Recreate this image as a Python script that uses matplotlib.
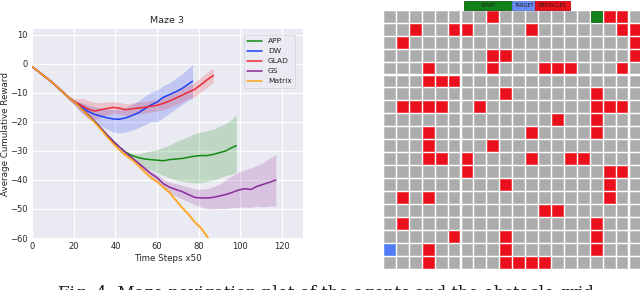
import matplotlib
matplotlib.use("Agg")
import matplotlib.pyplot as plt
from matplotlib.patches import Rectangle
import seaborn as sns

# ---------------- data: learning curves ----------------
dw_x = [0, 3, 6, 9, 12, 15, 18, 21, 24, 27, 30, 33, 36, 39, 42, 45, 48, 51, 54, 57, 60, 63, 66, 69, 72, 75, 77]
dw_y = [-1, -2.6, -4.3, -6, -7.9, -9.9, -11.9, -13.6, -15, -16.4, -17.4, -18, -18.6, -19, -19.1, -18.6, -17.8, -16.9, -15.5, -14.2, -13.2, -11.5, -10.6, -9.6, -8.5, -7, -6]
dw_lo = [-1, -2.7, -4.4, -6.2, -8.1, -10.2, -12.4, -14.8, -17, -18.8, -20.2, -21.4, -22.5, -23.5, -23.8, -23.5, -22.8, -22, -21, -20, -20, -18.5, -17, -15.5, -14, -12.5, -12]
dw_hi = [-1, -2.5, -4.2, -5.8, -7.7, -9.6, -11.4, -12.6, -13.4, -14.2, -14.8, -15.2, -15.6, -15.8, -15.6, -15, -14, -12.8, -11.2, -9.8, -9, -7.5, -6.5, -5, -3.5, -1.5, -0.3]

glad_x = [0, 3, 6, 9, 12, 15, 18, 21, 24, 27, 30, 33, 36, 39, 42, 45, 48, 51, 54, 57, 60, 63, 66, 69, 72, 75, 78, 81, 84, 87]
glad_y = [-1, -2.6, -4.3, -6, -7.9, -9.9, -11.9, -13.3, -14.4, -15.6, -16.3, -15.8, -15.4, -15, -15.3, -15.8, -15.5, -15.2, -15, -14.6, -14.3, -13.6, -12.8, -11.8, -10.8, -9.8, -8.8, -7.2, -5.5, -4]
glad_lo = [-1, -2.8, -4.6, -6.4, -8.4, -10.5, -12.7, -14.5, -16.9, -18.6, -19.3, -18.3, -17.6, -17, -17.3, -17.8, -17.5, -17.2, -17, -16.6, -16.3, -15.8, -15, -14.1, -13.1, -12.1, -11.3, -9.7, -8, -6.5]
glad_hi = [-1, -2.4, -4.0, -5.6, -7.4, -9.3, -11.1, -12.1, -11.9, -12.6, -13.3, -13.3, -13.2, -13, -13.3, -13.8, -13.5, -13.2, -13, -12.6, -12.3, -11.4, -10.6, -9.5, -8.5, -7.5, -6.3, -4.7, -3, -1.5]

app_x = [0, 3, 6, 9, 12, 15, 18, 21, 24, 27, 30, 33, 36, 39, 42, 45, 48, 51, 54, 57, 60, 63, 66, 69, 72, 75, 78, 81, 84, 87, 90, 93, 96, 98]
app_y = [-1, -2.6, -4.3, -6, -7.9, -9.9, -11.9, -13.5, -15.5, -17.6, -19.8, -22.1, -24.5, -26.7, -28.7, -30.5, -31.6, -32.3, -32.8, -33, -33.2, -33.4, -33, -32.8, -32.6, -32.2, -31.8, -31.6, -31.6, -31.2, -30.6, -30, -28.8, -28.2]
app_lo = [-1, -2.7, -4.4, -6.2, -8.1, -10.1, -12.1, -13.8, -15.8, -17.9, -20.1, -22.4, -24.8, -27, -29, -30.9, -32.5, -34, -35.5, -36.5, -37.5, -38.5, -39.3, -40, -40.5, -40.8, -41, -41, -40.5, -40, -39.3, -38.5, -38, -37.5]
app_hi = [-1, -2.5, -4.2, -5.8, -7.7, -9.7, -11.7, -13.2, -15.2, -17.3, -19.5, -21.8, -24.2, -26.4, -28.4, -30.1, -31, -31, -30.5, -30, -29.5, -28.8, -28, -26.8, -26, -25, -24, -23.5, -23, -22.5, -21.5, -20.5, -19, -17.5]

gs_x = [0, 3, 6, 9, 12, 15, 18, 21, 24, 27, 30, 33, 36, 39, 42, 45, 48, 51, 54, 57, 60, 63, 66, 69, 72, 75, 78, 81, 84, 87, 90, 93, 96, 99, 102, 105, 108, 111, 114, 117]
gs_y = [-1, -2.6, -4.3, -6, -7.9, -9.9, -11.9, -13.5, -15.5, -17.6, -19.8, -22.1, -24.5, -26.7, -28.7, -30.6, -32.4, -34.2, -36, -37.8, -39.2, -41.3, -42.5, -43.3, -44, -45, -46, -46.2, -46.2, -46, -45.5, -45, -44.3, -43.5, -43, -43.3, -42.2, -41.5, -40.8, -40]
gs_lo = [-1, -2.7, -4.4, -6.2, -8.1, -10.1, -12.1, -13.8, -15.8, -17.9, -20.1, -22.4, -24.8, -27, -29, -31, -32.9, -34.8, -36.7, -38.7, -40.3, -43, -44.5, -45.5, -46.5, -47.5, -48.5, -49.3, -49.8, -50, -49.8, -49.8, -49.5, -49.5, -49.3, -49.5, -49, -49.3, -49, -49]
gs_hi = [-1, -2.5, -4.2, -5.8, -7.7, -9.7, -11.7, -13.2, -15.2, -17.3, -19.5, -21.8, -24.2, -26.4, -28.4, -30.2, -31.9, -33.6, -35.3, -36.9, -38, -39.8, -40.8, -41.3, -41.8, -42.5, -43, -43.2, -43, -42.3, -41.5, -40, -38.5, -37.3, -36.5, -35.8, -35, -34, -32.5, -31.3]

mx_x = [0, 3, 6, 9, 12, 15, 18, 21, 24, 27, 30, 33, 36, 39, 42, 45, 48, 51, 54, 57, 60, 63, 66, 69, 72, 75, 78, 81, 84, 86]
mx_y = [-1, -2.6, -4.3, -6, -7.9, -9.9, -11.9, -13.6, -15.7, -17.9, -20.1, -22.5, -25.1, -27.5, -29.7, -31.5, -33, -35, -37.2, -39.2, -40.6, -42.5, -44.3, -47, -49.5, -51.8, -54.5, -56.5, -59.5, -62]
mx_lo = [-1, -2.7, -4.5, -6.3, -8.3, -10.4, -12.5, -14.3, -16.5, -18.7, -20.9, -23.3, -25.9, -28.3, -30.5, -32.3, -33.8, -35.8, -38, -40, -41.4, -43.3, -45.1, -47.8, -50.3, -52.6, -55.3, -57.3, -60.3, -62.8]
mx_hi = [-1, -2.5, -4.1, -5.7, -7.5, -9.4, -11.3, -12.9, -14.9, -17.1, -19.3, -21.7, -24.3, -26.7, -28.9, -30.7, -32.2, -34.2, -36.4, -38.4, -39.8, -41.7, -43.5, -46.2, -48.7, -51, -53.7, -55.7, -58.7, -61.2]

series_names = ["APP", "DW", "GLAD", "GS", "Matrix"]
series_colors = ["#138a13", "#1f3ff5", "#ec2a36", "#8b2a9c", "#ffa21a"]

x_ticks = [0, 20, 40, 60, 80, 100, 120]
y_ticks = [10, 0, -10, -20, -30, -40, -50, -60]

# ---------------- data: maze grid ----------------
n_rows = 20
n_cols = 20
start_cell = (0, 16)
target_cell = (18, 0)
obstacle_cells = [
    (0, 8), (0, 17), (0, 18),
    (1, 2), (1, 5), (1, 6), (1, 11), (1, 18), (1, 19),
    (2, 1), (2, 19),
    (3, 8), (3, 9), (3, 19),
    (4, 3), (4, 8), (4, 12), (4, 13), (4, 14), (4, 18),
    (5, 3), (5, 4), (5, 5),
    (6, 9), (6, 16),
    (7, 1), (7, 2), (7, 3), (7, 4), (7, 7), (7, 16), (7, 17), (7, 18),
    (8, 13), (8, 16),
    (9, 3), (9, 11), (9, 16),
    (10, 3), (10, 8),
    (11, 3), (11, 4), (11, 6), (11, 11), (11, 14), (11, 15),
    (12, 6), (12, 17), (12, 18),
    (13, 9), (13, 17),
    (14, 1), (14, 3), (14, 17),
    (15, 12), (15, 13),
    (16, 1), (16, 16),
    (17, 5), (17, 9), (17, 16),
    (18, 3), (18, 9), (18, 16),
    (19, 3), (19, 9), (19, 10), (19, 11), (19, 12),
]
legend_labels = ["START", "TARGET", "OBSTACLES"]

caption = "Fig. 4: Maze navigation plot of the agents and the obstacle grid."

# ---------------- figure ----------------
sns.set_style("darkgrid")
plt.rcParams["font.family"] = ["DejaVu Sans"]
fig = plt.figure(figsize=(6.4, 2.9), dpi=100)

W, H = 640.0, 290.0
ax = fig.add_axes([32 / W, 52 / H, 271 / W, 209 / H])
ax.set_facecolor("#EAEAF2")
data = [
    (app_x, app_y, app_lo, app_hi),
    (dw_x, dw_y, dw_lo, dw_hi),
    (glad_x, glad_y, glad_lo, glad_hi),
    (gs_x, gs_y, gs_lo, gs_hi),
    (mx_x, mx_y, mx_lo, mx_hi),
]
for (xs, ys, lo, hi), name, col in zip(data, series_names, series_colors):
    ax.fill_between(xs, lo, hi, color=col, alpha=0.2, linewidth=0)
    ax.plot(xs, ys, color=col, lw=1.1, label=name)

ax.set_xlim(0, 130)
ax.set_ylim(-60, 12)
ax.set_xticks(x_ticks)
ax.set_yticks(y_ticks)
ax.tick_params(labelsize=6, colors="#262626", length=0, pad=3)
ax.grid(True, color="white", lw=0.9)
for s in ax.spines.values():
    s.set_visible(False)
ax.set_title("Maze 3", fontsize=6.8, color="#262626", pad=4)
ax.set_xlabel("Time Steps x50", fontsize=6.3, color="#262626", labelpad=2)
ax.set_ylabel("Average Cumulative Reward", fontsize=6.3, color="#262626")
ax.yaxis.set_label_coords(-0.082, 0.5)
leg = ax.legend(loc="upper right", fontsize=5.4, labelspacing=0.5, handlelength=2.0,
                handletextpad=0.8, borderpad=0.45, frameon=True, facecolor="#EAEAF2",
                edgecolor="#d0d0d8", bbox_to_anchor=(0.985, 0.99))
leg.get_frame().set_linewidth(0.6)
for t in leg.get_texts():
    t.set_color("#262626")

# ---------------- maze grid ----------------
pitch_x = 12.92
pitch_y = 12.95
grid_left = 383.0
grid_top_full = 9.75
grid_top_vis = 11.0
grid_bottom = grid_top_full + n_rows * pitch_y
gx = fig.add_axes([grid_left / W, (H - grid_bottom) / H,
                   n_cols * pitch_x / W, (grid_bottom - grid_top_vis) / H])
gx.set_xlim(0, n_cols)
gx.set_ylim(n_rows, (grid_top_vis - grid_top_full) / pitch_y)
gx.axis("off")
gx.set_facecolor("white")

obst = set(obstacle_cells)
for r in range(n_rows):
    for c in range(n_cols):
        if (r, c) == start_cell:
            fc, ec = "#12831a", "#0c6a12"
        elif (r, c) == target_cell:
            fc, ec = "#4f7bf5", "#6a90f7"
        elif (r, c) in obst:
            fc, ec = "#ea111d", "#f03a44"
        else:
            fc, ec = "#acacac", "#bdbdbd"
        gx.add_patch(Rectangle((c + 0.08, r + 0.08), 0.84, 0.84, facecolor=fc,
                               edgecolor=ec, lw=0.6))

# legend bar of the grid (figure pixel overlay)
ov = fig.add_axes([0, 0, 1, 1], facecolor="none")
ov.set_xlim(0, W)
ov.set_ylim(H, 0)
ov.axis("off")
bar_spec = [(464, 512, "#12831a", "#0b5e10"), (512, 535, "#6b8cf0", "#5a7be0"), (535, 570, "#ea111d", "#c00010")]
for (x0, x1, fc, ec), lab in zip(bar_spec, legend_labels):
    ov.add_patch(Rectangle((x0, 1), x1 - x0, 8.5, facecolor=fc, edgecolor=ec, lw=0.6))
    ov.text((x0 + x1) / 2, 5.3, lab, fontsize=3.6, ha="center", va="center", color="#1a1a1a")

# caption (cut at the bottom edge, as in the source page)
ov.text(58, 285.5, caption, fontsize=12, family="DejaVu Serif", ha="left", va="top",
        color="#1a1a1a", clip_on=False)

fig.savefig("out.png", dpi=100)
